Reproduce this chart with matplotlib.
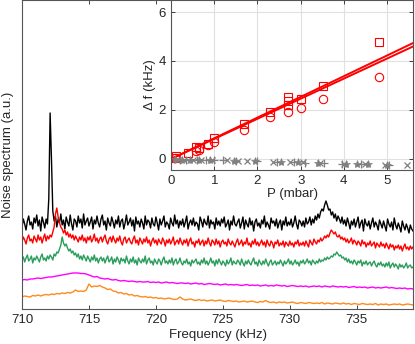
import numpy as np
import matplotlib
matplotlib.use("Agg")
import matplotlib.pyplot as plt

plt.rcParams['font.family'] = ['Liberation Sans', 'DejaVu Sans']

# Frequency grids (kHz)
freq = np.arange(293) * 0.1 + 710.0      # black, red, green
freq_s = np.arange(147) * 0.2 + 710.0    # magenta, orange

black = [82, 90, 85, 79, 88, 93, 84, 87, 80, 91,
         86, 94, 83, 89, 78, 92, 87, 81, 90, 85,
         110, 196, 150, 98, 88, 93, 82, 90, 86, 95,
         84, 89, 80, 92, 87, 83, 94, 85, 79, 90,
         88, 82, 93, 86, 90, 81, 95, 84, 88, 91,
         83, 87, 92, 80, 89, 85, 93, 86, 82, 90,
         94, 84, 88, 79, 91, 86, 83, 92, 87, 81,
         89, 85, 93, 82, 88, 90, 80, 86, 94, 84,
         87, 91, 83, 89, 78, 92, 85, 88, 82, 90,
         86, 80, 93, 84, 89, 87, 81, 91, 85, 83,
         92, 86, 79, 90, 84, 88, 93, 82, 87, 85,
         80, 91, 86, 83, 94, 85, 89, 81, 88, 84,
         90, 82, 87, 93, 80, 86, 89, 84, 91, 83,
         87, 85, 79, 92, 88, 82, 90, 86, 84, 93,
         81, 89, 85, 87, 80, 91, 84, 88, 83, 90,
         86, 92, 82, 85, 89, 79, 88, 84, 93, 85,
         83, 87, 90, 81, 86, 92, 80, 89, 85, 82,
         91, 84, 88, 78, 87, 90, 83, 86, 81, 89,
         85, 93, 82, 87, 84, 80, 91, 86, 88, 83,
         90, 81, 86, 89, 79, 88, 84, 92, 83, 87,
         84, 90, 82, 86, 93, 85, 80, 89, 87, 83,
         88, 82, 91, 85, 87, 92, 84, 90, 86, 93,
         89, 95, 91, 97, 100, 98, 104, 108, 104, 99,
         100, 94, 97, 91, 95, 88, 93, 90, 86, 92,
         85, 89, 83, 91, 86, 80, 88, 84, 90, 82,
         87, 92, 81, 86, 89, 78, 90, 85, 83, 88,
         80, 86, 91, 82, 87, 84, 79, 89, 85, 81,
         88, 83, 78, 90, 85, 82, 87, 79, 91, 84,
         80, 86, 82, 77, 88, 83, 79, 85, 81, 76,
         84, 80, 78]

red = [67, 72, 69, 65, 71, 74, 68, 70, 66, 73,
       70, 67, 74, 69, 72, 66, 71, 75, 68, 73,
       70, 74, 72, 77, 82, 95, 101, 92, 86, 82,
       80, 76, 79, 74, 77, 72, 75, 71, 74, 69,
       73, 70, 67, 72, 69, 74, 68, 71, 66, 72,
       69, 73, 67, 70, 75, 68, 71, 66, 70, 72,
       67, 71, 74, 68, 65, 70, 72, 67, 73, 69,
       66, 71, 68, 73, 67, 64, 70, 72, 66, 69,
       71, 67, 65, 70, 73, 66, 69, 64, 71, 68,
       65, 70, 67, 72, 66, 69, 63, 68, 71, 66,
       69, 64, 70, 67, 65, 71, 68, 63, 69, 66,
       70, 65, 68, 72, 64, 67, 69, 65, 71, 67,
       64, 69, 66, 70, 63, 68, 71, 65, 67, 62,
       68, 66, 70, 64, 67, 69, 63, 68, 65, 71,
       66, 63, 69, 67, 64, 70, 65, 68, 62, 67,
       69, 65, 67, 63, 70, 66, 64, 68, 65, 62,
       67, 70, 64, 66, 69, 63, 67, 65, 71, 64,
       66, 62, 68, 65, 70, 64, 67, 63, 66, 69,
       64, 67, 62, 69, 65, 63, 68, 66, 61, 67,
       65, 69, 63, 66, 64, 68, 62, 67, 65, 63,
       68, 64, 66, 62, 67, 65, 69, 63, 66, 64,
       67, 63, 68, 65, 62, 69, 66, 64, 70, 67,
       65, 69, 67, 71, 68, 70, 73, 71, 74, 72,
       76, 79, 77, 75, 77, 73, 72, 74, 70, 72,
       69, 71, 67, 70, 66, 68, 71, 65, 69, 67,
       64, 68, 66, 63, 69, 65, 67, 62, 66, 64,
       68, 63, 65, 67, 61, 66, 64, 62, 67, 63,
       65, 61, 66, 63, 60, 65, 62, 64, 59, 63,
       61, 64, 60, 63, 58, 62, 65, 60, 62, 59,
       63, 60, 62]

green = [49, 52, 47, 51, 54, 48, 50, 53, 46, 51,
         49, 53, 50, 47, 52, 55, 49, 51, 48, 53,
         50, 54, 52, 49, 55, 53, 57, 56, 60, 64,
         72, 66, 63, 65, 61, 58, 60, 56, 58, 54,
         56, 52, 55, 50, 53, 49, 54, 51, 48, 53,
         50, 47, 52, 49, 54, 48, 51, 46, 50, 52,
         48, 51, 46, 50, 53, 47, 49, 52, 45, 50,
         47, 52, 49, 45, 51, 48, 50, 46, 53, 48,
         45, 50, 47, 52, 46, 49, 44, 51, 48, 46,
         50, 47, 53, 45, 49, 51, 46, 48, 44, 50,
         47, 45, 50, 48, 44, 49, 52, 46, 48, 45,
         49, 46, 51, 44, 48, 50, 45, 47, 51, 46,
         44, 48, 46, 50, 45, 47, 43, 49, 46, 48,
         50, 45, 47, 44, 49, 46, 51, 45, 48, 44,
         47, 51, 46, 48, 43, 49, 45, 50, 47, 44,
         48, 46, 43, 49, 45, 47, 51, 44, 48, 46,
         45, 49, 47, 44, 50, 46, 43, 48, 45, 49,
         46, 44, 48, 51, 45, 47, 43, 49, 46, 44,
         48, 45, 50, 46, 43, 47, 49, 44, 46, 48,
         44, 47, 45, 49, 46, 43, 48, 45, 47, 50,
         45, 48, 44, 46, 49, 45, 47, 43, 48, 46,
         49, 45, 47, 50, 46, 48, 44, 49, 47, 45,
         48, 46, 50, 47, 49, 48, 51, 49, 52, 50,
         51, 53, 52, 55, 54, 57, 55, 53, 54, 51,
         52, 49, 51, 47, 50, 46, 48, 45, 49, 47,
         44, 48, 46, 49, 43, 47, 45, 48, 44, 46,
         47, 43, 46, 48, 44, 42, 46, 44, 47, 43,
         45, 42, 46, 43, 47, 41, 44, 46, 42, 45,
         43, 40, 45, 42, 44, 41, 43, 46, 41, 43,
         44, 41, 42]

magenta = [29, 29.5, 29, 30, 30, 30.5, 31, 30.5, 31, 31.5,
           32, 32, 32.5, 33, 33.5, 34, 34.5, 35, 35.5, 36,
           36, 36, 35.5, 35.5, 35, 34, 33, 32, 32.5, 31,
           30.5, 30, 30.5, 29.5, 29, 29.5, 28.5, 28, 28.5, 28,
           27.5, 28, 27.5, 27, 27.5, 27, 27, 27.5, 26.5, 27,
           26.5, 27, 26, 26.5, 27, 26, 26.5, 26, 25.5, 26,
           26, 25.5, 26, 25, 25.5, 26, 25, 25.5, 24.5, 25,
           25.5, 25, 24.5, 25, 24, 24.5, 25, 24, 24.5, 24,
           24.5, 24, 23.5, 24, 24.5, 23.5, 24, 23.5, 24, 23,
           23.5, 24, 23, 23.5, 23, 24, 23.5, 23, 23.5, 22.5,
           23, 23.5, 23, 22.5, 23, 22.5, 23, 22, 22.5, 23,
           22.5, 23, 22, 23, 22.5, 22, 23, 22.5, 22, 22.5,
           22, 22.5, 21.5, 22, 22.5, 21.5, 22, 21.5, 22, 21,
           21.5, 22, 21, 21.5, 21, 21.5, 22, 21, 21.5, 21,
           20.5, 21, 20.5, 21, 20, 20.5, 20]

orange = [12, 13, 12.5, 12, 13.5, 13, 14, 13, 14, 14.5,
          14, 15, 14.5, 15.5, 15, 16, 15.5, 16.5, 16, 17,
          19, 17.5, 18, 17.5, 19, 25, 22, 23, 22.5, 23.5,
          22, 21, 19.5, 20, 18, 17.5, 16, 16.5, 15, 15.5,
          14, 14.5, 13, 13.5, 12.5, 12, 12.5, 11.5, 12, 11,
          11.5, 10.5, 11, 10, 10.5, 11, 10, 9.5, 10, 12,
          10, 9, 9.5, 10, 9, 8.5, 9.5, 8.5, 9, 8,
          8.5, 9, 8, 8.5, 9, 8, 7.5, 8.5, 8, 7.5,
          8, 7, 7.5, 8, 7, 7.5, 8, 7, 6.5, 7.5,
          7, 8.5, 7, 6.5, 7, 6, 7, 6.5, 7, 6,
          6.5, 7, 6, 5.5, 6.5, 6, 5.5, 6.5, 6, 5.5,
          6, 5.5, 6.5, 5, 6, 5.5, 5, 6, 5.5, 5,
          6, 5, 5.5, 4.5, 5.5, 5, 4.5, 5.5, 5, 4.5,
          5, 4.5, 5.5, 4, 5, 4.5, 5, 4, 4.5, 5,
          4.5, 5, 4, 4.5, 5, 4.5, 4]

# Inset data
sq_P = [0.12, 0.10, 0.40, 0.58, 0.65, 0.85, 1.0, 1.7, 2.3, 2.7, 2.7, 2.7, 3.0, 3.52, 4.81]
sq_df = [0.12, 0.05, 0.26, 0.50, 0.45, 0.60, 0.85, 1.42, 1.93, 2.54, 2.35, 2.20, 2.46, 2.99, 4.79]
ci_P = [0.10, 0.58, 0.65, 0.85, 1.0, 1.7, 2.3, 2.7, 3.0, 3.52, 4.81]
ci_df = [0.02, 0.33, 0.38, 0.58, 0.69, 1.18, 1.70, 1.93, 2.07, 2.46, 3.36]
fit_slopes = [0.845, 0.82]
fit_P = [0.0, 5.6]

x_P = [0.15, 0.3, 0.5, 0.7, 0.95, 1.3, 1.55, 1.75, 2.35, 2.75, 3.05, 3.45, 4.0, 4.5, 4.95, 5.45]
x_df = [-0.03, -0.04, -0.05, -0.05, -0.05, -0.06, -0.07, -0.08, -0.12, -0.13, -0.14, -0.17, -0.19, -0.21, -0.23, -0.25]
p_P = [0.2, 0.35, 0.6, 0.8, 1.0, 1.2, 1.5, 2.0, 2.45, 2.85, 3.1, 3.55, 3.95, 4.4, 5.05]
p_df = [-0.03, -0.05, -0.05, -0.06, -0.06, -0.06, -0.07, -0.10, -0.13, -0.14, -0.15, -0.18, -0.20, -0.21, -0.24]
s_P = [0.1, 0.25, 0.45, 0.65, 0.9, 1.45, 1.95, 2.55, 2.95, 3.4, 4.05, 4.3, 4.55, 5.0]
s_df = [-0.02, -0.04, -0.05, -0.05, -0.06, -0.07, -0.10, -0.13, -0.14, -0.17, -0.19, -0.20, -0.21, -0.24]

axcol = '#262626'
fig = plt.figure(figsize=(4.15, 3.44), dpi=100)
ax = fig.add_axes([22/415, 35/344, 391/415, 309/344])
ax.plot(freq, black, color='black', lw=1.0)
ax.plot(freq, red, color='#ff0000', lw=1.0)
ax.plot(freq, green, color='#2a9d5c', lw=1.0)
ax.plot(freq_s, magenta, color='#ff00ff', lw=1.0)
ax.plot(freq_s, orange, color='#ff8a1c', lw=1.0)
ax.set_xlim(710, 739.2)
ax.set_ylim(0, 309)
ax.set_yticks([])
ax.set_xticks([710, 715, 720, 725, 730, 735])
ax.tick_params(axis='x', direction='in', top=True, length=3, labelsize=9.5, colors=axcol, width=0.6)
for s in ax.spines.values():
    s.set_color('#555555')
    s.set_linewidth(0.8)
ax.set_xlabel('Frequency (kHz)', fontsize=9.5, color=axcol, labelpad=2)
ax.set_ylabel('Noise spectrum (a.u.)', fontsize=9.5, color=axcol, labelpad=6)

ins = fig.add_axes([171/415, 174/344, 242/415, 170/344])
ins.set_facecolor('white')
ins.grid(True, color='#e0e0e0', lw=0.8)
ins.set_axisbelow(True)
for k in fit_slopes:
    ins.plot(fit_P, [k * p for p in fit_P], color='#ff0000', lw=1.4)
ins.plot(sq_P, sq_df, 's', mfc='none', mec='#ff0000', ms=5.5, mew=0.8)
ins.plot(ci_P, ci_df, 'o', mfc='none', mec='#ff0000', ms=6, mew=0.8)
ins.plot(x_P, x_df, 'x', color='#808080', ms=5, mew=0.9)
ins.plot(p_P, p_df, '+', color='#808080', ms=6, mew=0.9)
ins.plot(s_P, s_df, '*', color='#808080', ms=6, mew=0.5)
ins.set_xlim(0, 5.6)
ins.set_ylim(-0.45, 6.49)
ins.set_xticks([0, 1, 2, 3, 4, 5])
ins.set_yticks([0, 2, 4, 6])
ins.tick_params(direction='in', top=True, right=True, length=3, labelsize=9.5, colors=axcol, width=0.6)
for s in ins.spines.values():
    s.set_color('#555555')
    s.set_linewidth(0.8)
ins.set_xlabel('P (mbar)', fontsize=9.5, color=axcol, labelpad=1)
ins.set_ylabel('Δ f (kHz)', fontsize=9.5, color=axcol, labelpad=2)

fig.savefig('out.png', dpi=100)
